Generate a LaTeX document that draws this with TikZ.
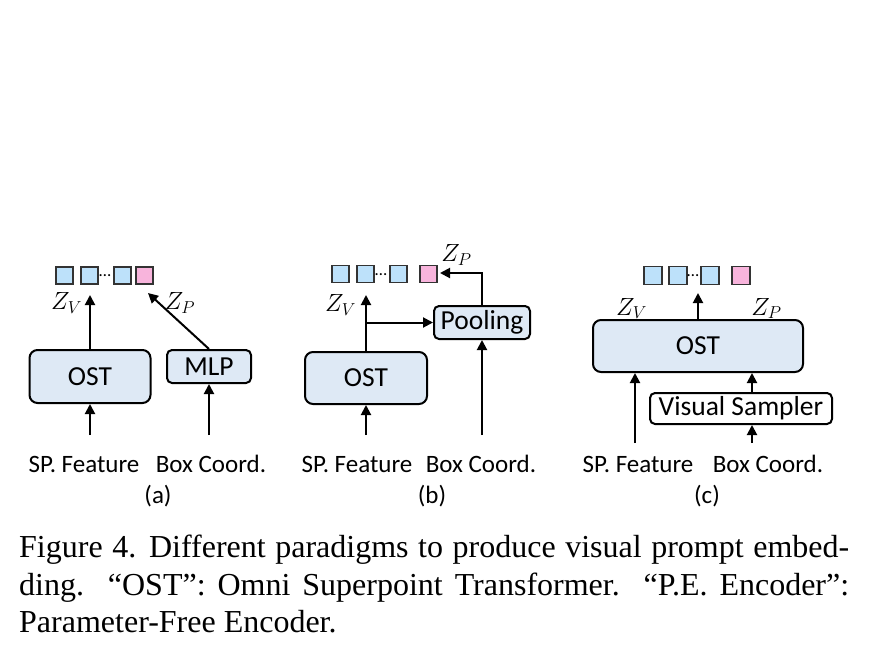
\documentclass[tikz,border=0pt]{standalone}
\usepackage{fontspec}
\setmainfont{Liberation Serif}
\newfontfamily\calfont{Carlito}
\usepackage{tikz}
\usetikzlibrary{arrows.meta,positioning}
\definecolor{boxfill}{HTML}{DEE9F5}
\definecolor{tokblue}{HTML}{BDE1FA}
\definecolor{tokpink}{HTML}{F8B4DC}
\definecolor{tokline}{HTML}{333333}
\tikzset{
  bigbox/.style={draw=black, line width=2pt, rounded corners=8pt, fill=boxfill, inner sep=0pt, font=\calfont\fontsize{27.5}{30}\selectfont},
  smallbox/.style={draw=black, line width=2pt, rounded corners=5pt, fill=boxfill, inner sep=0pt, font=\calfont\fontsize{27.5}{30}\selectfont},
  token/.style={draw=tokline, line width=1.8pt, minimum size=17pt, inner sep=0pt, fill=tokblue},
  ptoken/.style={token, fill=tokpink},
  tokdots/.style={inner sep=0pt, font=\calfont\fontsize{17}{20}\selectfont},
  inlabel/.style={inner sep=0pt, anchor=base, font=\calfont\fontsize{25}{28}\selectfont},
  zlabel/.style={inner sep=0pt, font=\fontsize{23}{26}\selectfont},
  arrow/.style={-{Triangle[length=10pt,width=10pt]}, line width=2pt}
}

\begin{document}
\begin{tikzpicture}[x=1pt, y=-1pt]
  \useasboundingbox (0,0) rectangle (872,648);

  % (a) OST and MLP
  \node[bigbox, minimum width=121pt, minimum height=53pt] (ost1) at (90,376.5) {OST};
  \node[smallbox, minimum width=84pt, minimum height=33pt] (mlp) at (209,366.5) {MLP};
  \node[token] (ta1) at (64.5,275.5) {};
  \node[token, right=6pt of ta1] (ta2) {};
  \node[token] (ta3) at (122.5,275.5) {};
  \node[ptoken, right=3pt of ta3] (ta4) {};
  \node[tokdots] (dotsa) at (105,276) {\dots};
  \node[zlabel] (zva) at (66.5,303) {$Z_V$};
  \node[zlabel] (zpa) at (180,303) {$Z_P$};
  \node[inlabel] (spa) at (84,472) {SP. Feature};
  \node[inlabel] (boxa) at (211,472) {Box Coord.};
  \node[inlabel] (capa) at (158,503) {(a)};
  \coordinate (sa) at (90,435);
  \coordinate (ba) at (209,435);
  \coordinate (za) at (90,295);
  \coordinate (pa) at (148,293);

  \draw[arrow] (sa) -- (ost1);
  \draw[arrow] (ba) -- (mlp);
  \draw[arrow] (ost1) -- (za);
  \draw[arrow] (mlp.north) -- (pa);

  % (b) OST and Pooling
  \node[bigbox, minimum width=122pt, minimum height=52pt] (ost2) at (366,378) {OST};
  \node[smallbox, minimum width=96pt, minimum height=33pt] (pool) at (482,322.5) {Pooling};
  \node[token] (tb1) at (340.5,274) {};
  \node[token, right=6pt of tb1] (tb2) {};
  \node[token] (tb3) at (398.5,274) {};
  \node[ptoken] (tb4) at (428.5,274) {};
  \node[tokdots] (dotsb) at (381,274.5) {\dots};
  \node[zlabel] (zvb) at (340.5,305) {$Z_V$};
  \node[zlabel] (zpb) at (456.5,255) {$Z_P$};
  \node[inlabel] (spb) at (357,472) {SP. Feature};
  \node[inlabel] (boxb) at (481,472) {Box Coord.};
  \node[inlabel] (capb) at (432,503) {(b)};
  \coordinate (sb) at (366,435);
  \coordinate (bb) at (482,435);
  \coordinate (zb) at (366,295);
  \coordinate (pb) at (440,273);

  \draw[arrow] (sb) -- (ost2);
  \draw[arrow] (bb) -- (pool);
  \draw[arrow] (ost2) -- (zb);
  \draw[arrow] (ost2.north |- pool) -- (pool);
  \draw[arrow] (pool) |- (pb);

  % (c) OST with Visual Sampler
  \node[bigbox, minimum width=210pt, minimum height=52pt] (ost3) at (698,346) {OST};
  \node[smallbox, fill=white, minimum width=182pt, minimum height=31pt] (vs) at (741,408.5) {Visual Sampler};
  \node[token, minimum size=18pt] (tc1) at (653,275.5) {};
  \node[token, minimum size=18pt, right=5pt of tc1] (tc2) {};
  \node[token, minimum size=18pt] (tc3) at (710,275.5) {};
  \node[ptoken, minimum size=18pt] (tc4) at (741,275.5) {};
  \node[tokdots] (dotsc) at (693,276) {\dots};
  \node[zlabel] (zvc) at (631.5,308.5) {$Z_V$};
  \node[zlabel] (zpc) at (766.5,308.5) {$Z_P$};
  \node[inlabel] (spc) at (638,472) {SP. Feature};
  \node[inlabel] (boxc) at (768,472) {Box Coord.};
  \node[inlabel] (capc) at (707,503) {(c)};
  \coordinate (sc) at (635,443);
  \coordinate (bc) at (752,443);
  \coordinate (zc) at (698,293);

  \draw[arrow] (sc) -- (sc |- ost3.south);
  \draw[arrow] (bc) -- (bc |- vs.south);
  \draw[arrow] (vs.north -| bc) -- (bc |- ost3.south);
  \draw[arrow] (ost3) -- (zc);

  % caption
  \node[anchor=north west, text width=830pt, align=justify, inner sep=0pt, font=\fontsize{32}{37.5}\selectfont] (caption) at (19,535)
    {Figure 4.\hspace{0.4em}Different paradigms to produce visual prompt embed-\linebreak ding.\ \ ``OST'': Omni Superpoint Transformer.\ \ ``P.E. Encoder'':\linebreak Parameter-Free Encoder.};
\end{tikzpicture}
\end{document}
